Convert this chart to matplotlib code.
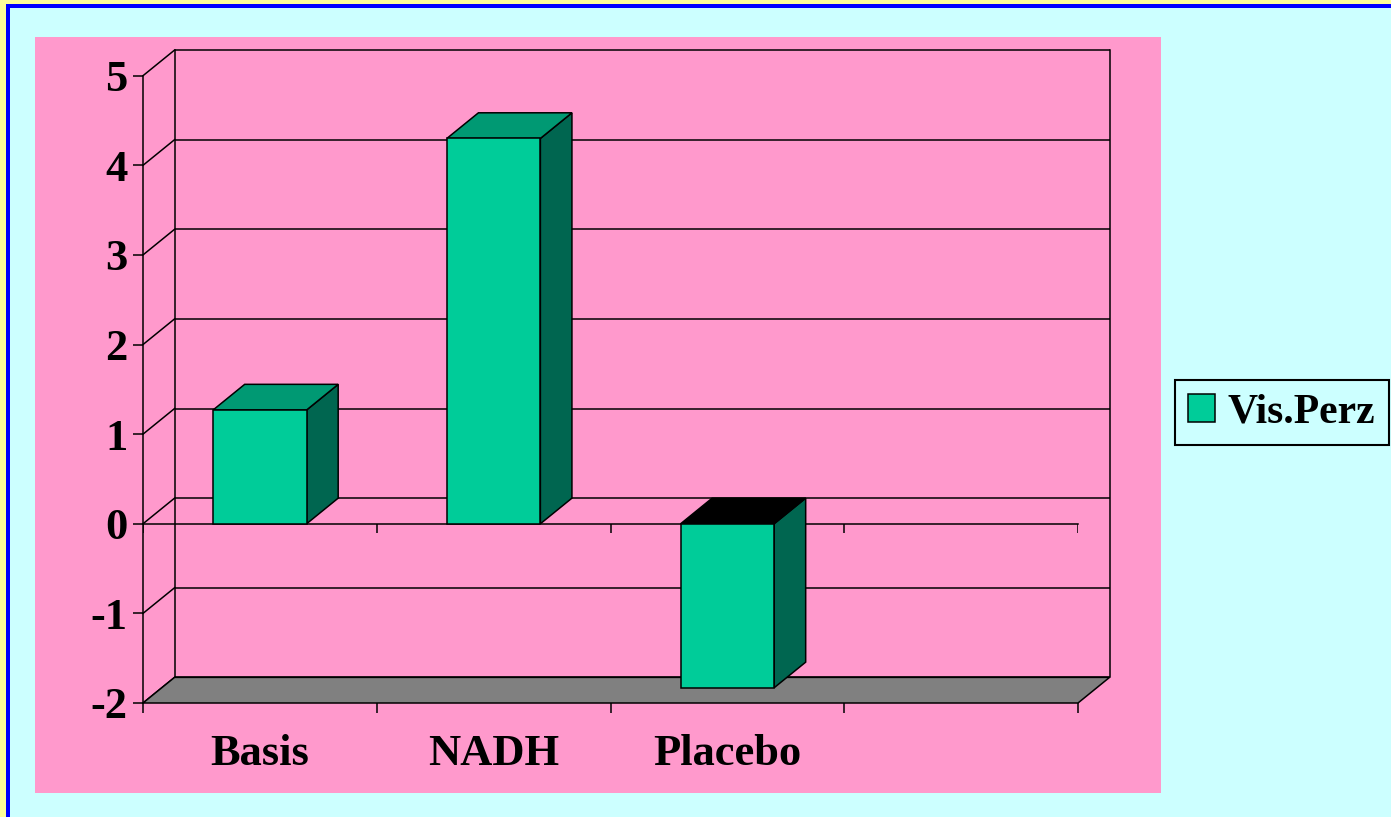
import matplotlib
matplotlib.use("Agg")
import matplotlib.pyplot as plt
from matplotlib.patches import Polygon, Rectangle, Patch

plt.rcParams["font.family"] = ["Liberation Serif", "DejaVu Serif"]
plt.rcParams["font.weight"] = "bold"

categories = ["Basis", "NADH", "Placebo", ""]
vis_perz = [1.27, 4.30, -1.83]
series_name = "Vis.Perz"
y_ticks = [-2, -1, 0, 1, 2, 3, 4, 5]

# colours
BG = "#CCFFFF"
PANEL = "#FF99CC"
FRONT = "#00CC99"
TOP = "#009973"
SIDE = "#006650"
FLOOR = "#808080"

W, H = 1391, 817
fig = plt.figure(figsize=(W / 100, H / 100), dpi=100)
fig.patch.set_facecolor(BG)


def px_box(x0, y0, x1, y1):
    """figure-fraction rect from pixel corners (top-left origin)"""
    return (x0 / W, 1 - y1 / H, (x1 - x0) / W, (y1 - y0) / H)


# frame strips and pink chart panel
for (x0, y0, x1, y1), col in [((0, 0, 6, H), "#FFFF99"), ((0, 0, W, 4), "#FFFF99"),
                              ((6, 4, 10, H), "#0000FF"), ((6, 4, W, 8), "#0000FF"),
                              ((35, 37, 1161, 793), PANEL)]:
    l, b, w, h = px_box(x0, y0, x1, y1)
    fig.add_artist(Rectangle((l, b), w, h, transform=fig.transFigure,
                             facecolor=col, edgecolor="none", zorder=0))

# front plane of the 3D box
ax = fig.add_axes(px_box(143, 75.7, 1078, 703))
ax.set_facecolor("none")
n_cat = len(categories)
ymin, ymax = y_ticks[0], y_ticks[-1]
ax.set_xlim(0, n_cat)
ax.set_ylim(ymin, ymax)

# depth offset (oblique projection, in data units)
DX, DY = 0.135, 0.286
LW = 1.1

for s in ["top", "right", "bottom"]:
    ax.spines[s].set_visible(False)
ax.spines["left"].set_linewidth(LW)
ax.spines["left"].set_zorder(6)

ax.set_yticks(y_ticks)
ax.set_yticklabels([str(t) for t in y_ticks])
ax.tick_params(axis="y", direction="out", length=7, width=LW, pad=4,
               labelsize=32)
ax.set_xticks(range(n_cat + 1))
ax.set_xticklabels([])
ax.set_xticks([i + 0.5 for i in range(n_cat)], minor=True)
ax.set_xticklabels(categories, minor=True)
ax.tick_params(axis="x", which="major", direction="out", length=7, width=LW)
ax.tick_params(axis="x", which="minor", length=0, pad=22, labelsize=32)

# back wall: gridlines, edges, and left wall diagonals
for t in y_ticks:
    ax.plot([DX, n_cat + DX], [t + DY, t + DY], color="black", lw=LW,
            clip_on=False, zorder=1, solid_capstyle="butt")
    ax.plot([0, DX], [t, t + DY], color="black", lw=LW, clip_on=False, zorder=1)
for xe in [DX, n_cat + DX]:
    ax.plot([xe, xe], [ymin + DY, ymax + DY], color="black", lw=LW,
            clip_on=False, zorder=1)

# floor
ax.add_patch(Polygon([(0, ymin), (n_cat, ymin), (n_cat + DX, ymin + DY), (DX, ymin + DY)],
                     closed=True, facecolor=FLOOR, edgecolor="black", lw=LW,
                     clip_on=False, zorder=2))

# zero plane front edge with category ticks
ax.plot([0, n_cat], [0, 0], color="black", lw=LW, clip_on=False, zorder=2)
ax.vlines(range(n_cat + 1), -0.1, 0, color="black", lw=LW, zorder=2)

# 3D columns
bar_w = 0.4
for i, v in enumerate(vis_perz):
    x0 = i + 0.5 - bar_w / 2
    x1 = x0 + bar_w
    ax.add_patch(Polygon([(x1, 0), (x1 + DX, DY), (x1 + DX, v + DY), (x1, v)],
                         closed=True, facecolor=SIDE, edgecolor="black", lw=LW,
                         clip_on=False, zorder=3))
    cap = v if v >= 0 else 0
    ax.add_patch(Polygon([(x0, cap), (x1, cap), (x1 + DX, cap + DY), (x0 + DX, cap + DY)],
                         closed=True, facecolor=TOP if v >= 0 else "black",
                         edgecolor="black", lw=LW, clip_on=False, zorder=3))
    ax.add_patch(Rectangle((x0, min(0, v)), bar_w, abs(v), facecolor=FRONT,
                           edgecolor="black", lw=LW, clip_on=False, zorder=4))

leg = fig.legend(handles=[Patch(facecolor=FRONT, edgecolor="black", lw=LW)],
                 labels=[series_name], loc="center",
                 bbox_to_anchor=(1282 / W, 1 - 412.5 / H),
                 prop={"size": 30, "weight": "bold"}, fancybox=False,
                 handlelength=0.65, handleheight=0.65, handletextpad=0.3,
                 borderpad=0.32, borderaxespad=0)
leg.get_frame().set_facecolor(BG)
leg.get_frame().set_edgecolor("black")
leg.get_frame().set_linewidth(1.5)
leg.get_frame().set_alpha(1)

fig.savefig("out.png", dpi=100, facecolor=fig.get_facecolor())
